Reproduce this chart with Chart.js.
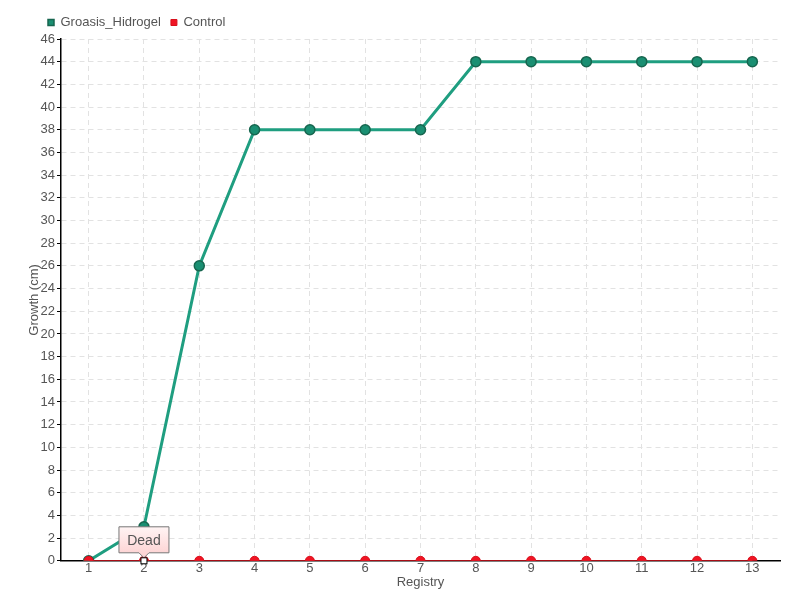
<!DOCTYPE html>
<html>
<head>
<meta charset="utf-8">
<script src="https://cdn.jsdelivr.net/npm/chart.js@4.4.0/dist/chart.umd.min.js"></script>
<style>
  html, body { margin: 0; padding: 0; background: #fff; }
  #wrap { width: 800px; height: 600px; }
</style>
</head>
<body>
<div id="wrap"><canvas id="growthChart" width="800" height="600"></canvas></div>
<script>
// Chart data
const registries = ['1', '2', '3', '4', '5', '6', '7', '8', '9', '10', '11', '12', '13'];
const groasisHidrogel = [0, 3, 26, 38, 38, 38, 38, 44, 44, 44, 44, 44, 44];
const control = [0, 0, 0, 0, 0, 0, 0, 0, 0, 0, 0, 0, 0];
const noteIndex = 1;     // registry "2" on the Control series
const noteText = 'Dead';

const FONT = "'Liberation Sans', Arial, sans-serif";

// Draws the little "Dead" callout above the Control point
const notePlugin = {
    id: 'deadNote',
    afterLayout(chart) {
        // nudge the legend right so it starts near the axis, like the original
        if (chart.legend) chart.legend.left += 11;
    },
    afterDatasetsDraw(chart) {
        const meta = chart.getDatasetMeta(1);
        const pt = meta.data[noteIndex];
        if (!pt) return;
        const ctx = chart.ctx;
        const x = pt.x, y = pt.y;
        const w = 50, h = 26, gap = 8;
        const top = y - gap - h;
        const left = x - w / 2;

        ctx.save();
        const grad = ctx.createLinearGradient(0, top, 0, top + h);
        grad.addColorStop(0, '#fff4f4');
        grad.addColorStop(1, '#fdd5d5');
        ctx.beginPath();
        ctx.moveTo(left, top);
        ctx.lineTo(left + w, top);
        ctx.lineTo(left + w, top + h);
        ctx.lineTo(x + 5, top + h);
        ctx.lineTo(x, top + h + 5);
        ctx.lineTo(x - 5, top + h);
        ctx.lineTo(left, top + h);
        ctx.closePath();
        ctx.fillStyle = grad;
        ctx.fill();
        ctx.strokeStyle = '#777';
        ctx.lineWidth = 1;
        ctx.stroke();

        ctx.fillStyle = '#555';
        ctx.font = '14px ' + FONT;
        ctx.textAlign = 'center';
        ctx.textBaseline = 'middle';
        ctx.fillText(noteText, x, top + h / 2 + 1);

        // marker on the point itself
        ctx.fillStyle = '#fff';
        ctx.fillRect(x - 3, y - 3, 6, 6);
        ctx.strokeStyle = '#000';
        ctx.strokeRect(x - 3, y - 3, 6, 6);
        ctx.restore();
    }
};

function initializeChart() {
    const ctx = document.getElementById('growthChart').getContext('2d');
    return new Chart(ctx, {
        type: 'line',
        data: {
            labels: registries,
            datasets: [
                {
                    label: 'Groasis_Hidrogel',
                    data: groasisHidrogel,
                    borderColor: '#1f9e80',
                    backgroundColor: '#1a9a7a',
                    pointBackgroundColor: '#1a8f72',
                    pointBorderColor: '#17664f',
                    pointBorderWidth: 1.5,
                    pointRadius: 5,
                    borderWidth: 3,
                    tension: 0,
                    order: 1
                },
                {
                    label: 'Control',
                    data: control,
                    borderColor: '#e0101c',
                    backgroundColor: '#f01020',
                    pointBackgroundColor: '#f01424',
                    pointBorderColor: '#d8101c',
                    pointBorderWidth: 1,
                    pointRadius: 4.5,
                    borderWidth: 1.5,
                    tension: 0,
                    order: 0
                }
            ]
        },
        options: {
            responsive: false,
            animation: false,
            layout: { padding: { left: 27, right: 20, top: 6, bottom: 10 } },
            plugins: {
                tooltip: { enabled: false },
                legend: {
                    position: 'top',
                    align: 'start',
                    labels: {
                        sort: (a, b) => a.datasetIndex - b.datasetIndex,
                        usePointStyle: true,
                        pointStyle: 'rect',
                        boxWidth: 6,
                        boxHeight: 6,
                        padding: 10,
                        color: '#555',
                        font: { family: FONT, size: 13 }
                    }
                }
            },
            scales: {
                x: {
                    offset: true,
                    grid: {
                        offset: false,
                        color: '#e2e2e2',
                        tickColor: 'rgba(0,0,0,0)',
                        tickLength: 2
                    },
                    border: { color: '#000', width: 1.5, dash: [5, 4] },
                    ticks: { color: '#555', font: { family: FONT, size: 13 }, padding: -2 },
                    title: {
                        display: true,
                        text: 'Registry',
                        color: '#555',
                        font: { family: FONT, size: 13 },
                        padding: { top: 0, bottom: 0 }
                    }
                },
                y: {
                    min: 0,
                    max: 46,
                    afterFit: (scale) => { scale.width = 34; },
                    grid: {
                        color: '#e2e2e2',
                        tickColor: '#000',
                        tickLength: 4,
                        tickBorderDash: []
                    },
                    border: { color: '#000', width: 1.5, dash: [5, 4] },
                    ticks: { stepSize: 2, color: '#555', font: { family: FONT, size: 13 }, padding: 2 },
                    title: {
                        display: true,
                        text: 'Growth (cm)',
                        color: '#555',
                        font: { family: FONT, size: 13 },
                        padding: { top: 0, bottom: 0 }
                    }
                }
            }
        },
        plugins: [notePlugin]
    });
}

window.addEventListener('load', initializeChart);
</script>
</body>
</html>
